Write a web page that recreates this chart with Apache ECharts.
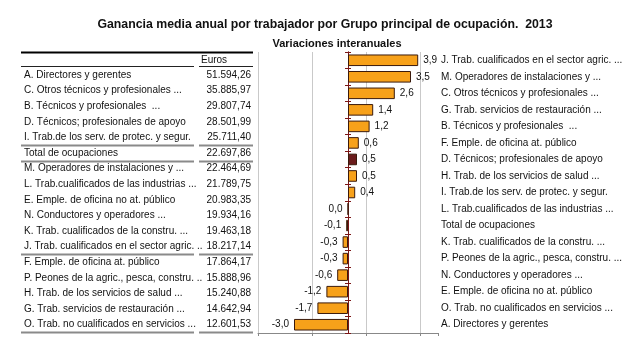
<!DOCTYPE html>
<html>
<head>
<meta charset="utf-8">
<script src="https://cdn.jsdelivr.net/npm/echarts@6/dist/echarts.min.js"></script>
<style>html,body{margin:0;padding:0;background:#fff}#c{width:628px;height:355px}</style>
</head>
<body>
<div id="c"></div>
<script>
// ---- Data ----
const tableLabels = [
  "A. Directores y gerentes",
  "C. Otros técnicos y profesionales ...",
  "B. Técnicos y profesionales  ...",
  "D. Técnicos; profesionales de apoyo",
  "I. Trab.de los serv. de protec. y segur.",
  "Total de ocupaciones",
  "M. Operadores de instalaciones y ...",
  "L. Trab.cualificados de las industrias ...",
  "E. Emple. de oficina no at. público",
  "N. Conductores y operadores ...",
  "K. Trab. cualificados de la constru. ...",
  "J. Trab. cualificados en el sector agric. ..",
  "F. Emple. de oficina at. público",
  "P. Peones de la agric., pesca, constru. ..",
  "H. Trab. de los servicios de salud ...",
  "G. Trab. servicios de restauración ...",
  "O. Trab. no cualificados en servicios ..."
];
const tableEuros = [51594.26, 35885.97, 29807.74, 28501.99, 25711.40, 22697.86, 22464.69, 21789.75,
  20983.35, 19934.16, 19463.18, 18217.14, 17864.17, 15888.96, 15240.88, 14642.94, 12601.53];
const tableSeparatorsAfter = [4, 5, 11, 16];

const categories = [
  "J. Trab. cualificados en el sector agric. ...",
  "M. Operadores de instalaciones y ...",
  "C. Otros técnicos y profesionales ...",
  "G. Trab. servicios de restauración ...",
  "B. Técnicos y profesionales  ...",
  "F. Emple. de oficina at. público",
  "D. Técnicos; profesionales de apoyo",
  "H. Trab. de los servicios de salud ...",
  "I. Trab.de los serv. de protec. y segur.",
  "L. Trab.cualificados de las industrias ...",
  "Total de ocupaciones",
  "K. Trab. cualificados de la constru. ...",
  "P. Peones de la agric., pesca, constru. ...",
  "N. Conductores y operadores ...",
  "E. Emple. de oficina no at. público",
  "O. Trab. no cualificados en servicios ...",
  "A. Directores y gerentes"
];
const variations = [3.9, 3.5, 2.6, 1.4, 1.2, 0.6, 0.5, 0.5, 0.4, 0.0, -0.1, -0.3, -0.3, -0.6, -1.2, -1.7, -3.0];
const highlighted = "D. Técnicos; profesionales de apoyo";

const titleText = "Ganancia media anual por trabajador por Grupo principal de ocupación.  2013";
const subtitleText = "Variaciones interanuales";
const tableHeader = "Euros";

// ---- Helpers ----
function fmtEs(v, d) {
  const s = v.toFixed(d);
  let [ip, fp] = s.split(".");
  const neg = ip.startsWith("-");
  if (neg) ip = ip.slice(1);
  ip = ip.replace(/\B(?=(\d{3})+(?!\d))/g, ".");
  return (neg ? "-" : "") + ip + (fp !== undefined ? "," + fp : "");
}

const FONT = "'Liberation Sans', Arial, sans-serif";
const chart = echarts.init(document.getElementById('c'), null, {renderer: 'canvas'});

// ---- Table graphics ----
const graphics = [];
const tX0 = 21, tX1 = 194, tX2 = 199, tX3 = 253;
const rowY0 = 75, rowStep = 15.6;
graphics.push({type: 'line', shape: {x1: tX0, y1: 52.5, x2: tX3, y2: 52.5}, style: {stroke: '#000', lineWidth: 2}});
graphics.push({type: 'text', x: 201, y: 60, style: {text: tableHeader, font: '10px ' + FONT, fill: '#111', textVerticalAlign: 'middle'}});
graphics.push({type: 'line', shape: {x1: tX0, y1: 66.5, x2: tX1, y2: 66.5}, style: {stroke: '#222', lineWidth: 1}});
graphics.push({type: 'line', shape: {x1: tX2, y1: 66.5, x2: tX3, y2: 66.5}, style: {stroke: '#222', lineWidth: 1}});
tableLabels.forEach((lab, i) => {
  const y = rowY0 + rowStep * i;
  graphics.push({type: 'text', x: 24, y: y, style: {text: lab, font: '10px ' + FONT, fill: '#111', textVerticalAlign: 'middle'}});
  graphics.push({type: 'text', x: 251, y: y, style: {text: fmtEs(tableEuros[i], 2), font: '10px ' + FONT, fill: '#111', textAlign: 'right', textVerticalAlign: 'middle'}});
});
tableSeparatorsAfter.forEach(i => {
  const y = Math.round(rowY0 + rowStep * (i + 0.5)) + 0.5;
  graphics.push({type: 'line', shape: {x1: tX0, y1: y, x2: tX1, y2: y}, style: {stroke: '#8a8a8a', lineWidth: 2}});
  graphics.push({type: 'line', shape: {x1: tX2, y1: y, x2: tX3, y2: y}, style: {stroke: '#8a8a8a', lineWidth: 2}});
});

// ---- Chart ----
const axisRed = '#7a1616';
const option = {
  animation: false,
  backgroundColor: '#fff',
  textStyle: {fontFamily: FONT},
  title: [
    {text: titleText, left: 320, top: 14, textAlign: 'center', textStyle: {fontSize: 12.3, fontWeight: 'bold', color: '#111', fontFamily: FONT}},
    {text: subtitleText, left: 332, top: 33, textAlign: 'center', textStyle: {fontSize: 11, fontWeight: 'bold', color: '#111', fontFamily: FONT}}
  ],
  grid: {left: 258, width: 180, top: 52, bottom: 22, containLabel: false},
  xAxis: [
    {
      type: 'value', min: -5, max: 5, interval: 3,
      axisLine: {show: true, onZero: false, lineStyle: {color: '#888', width: 1}},
      axisTick: {show: true, length: 3, lineStyle: {color: '#888'}},
      axisLabel: {show: false},
      splitLine: {show: true, showMaxLine: false, lineStyle: {color: '#c9c9c9', width: 1}}
    },
    {
      type: 'value', min: -5, max: 5, interval: 3, position: 'bottom',
      axisLine: {show: false, onZero: false}, axisTick: {show: false},
      axisLabel: {show: false}, splitLine: {show: false}
    }
  ],
  yAxis: [
    {
      type: 'category', data: categories, inverse: true, position: 'left',
      axisLine: {show: true, onZero: true, onZeroAxisIndex: 0, lineStyle: {color: axisRed, width: 1}},
      axisTick: {show: true, length: 3, lineStyle: {color: axisRed}},
      axisLabel: {show: false}, splitLine: {show: false}
    },
    {
      type: 'category', data: categories, inverse: true, position: 'right',
      axisLine: {show: false, onZero: false}, axisTick: {show: false},
      axisLabel: {show: true, margin: 3, fontSize: 10, color: '#111', fontFamily: FONT, align: 'left'},
      splitLine: {show: false}
    },
    {
      type: 'category', data: categories, inverse: true, position: 'left',
      axisLine: {show: true, onZero: true, onZeroAxisIndex: 1, lineStyle: {color: axisRed, width: 1}},
      axisTick: {show: true, inside: true, length: 3, lineStyle: {color: axisRed}},
      axisLabel: {show: false}, splitLine: {show: false}
    }
  ],
  series: [{
    type: 'bar',
    xAxisIndex: 0,
    yAxisIndex: 0,
    barCategoryGap: '30%',
    data: variations.map((v, i) => ({
      value: v,
      itemStyle: {
        color: categories[i] === highlighted ? '#6b1c1c' : '#f7a11a',
        borderColor: '#3a1a0c', borderWidth: 1
      },
      label: {position: v <= 0 ? 'left' : 'right'}
    })),
    label: {
      show: true, distance: 5, fontSize: 10, color: '#111', fontFamily: FONT,
      formatter: p => fmtEs(p.value, 1)
    }
  }],
  graphic: graphics
};
chart.setOption(option);
</script>
</body>
</html>
